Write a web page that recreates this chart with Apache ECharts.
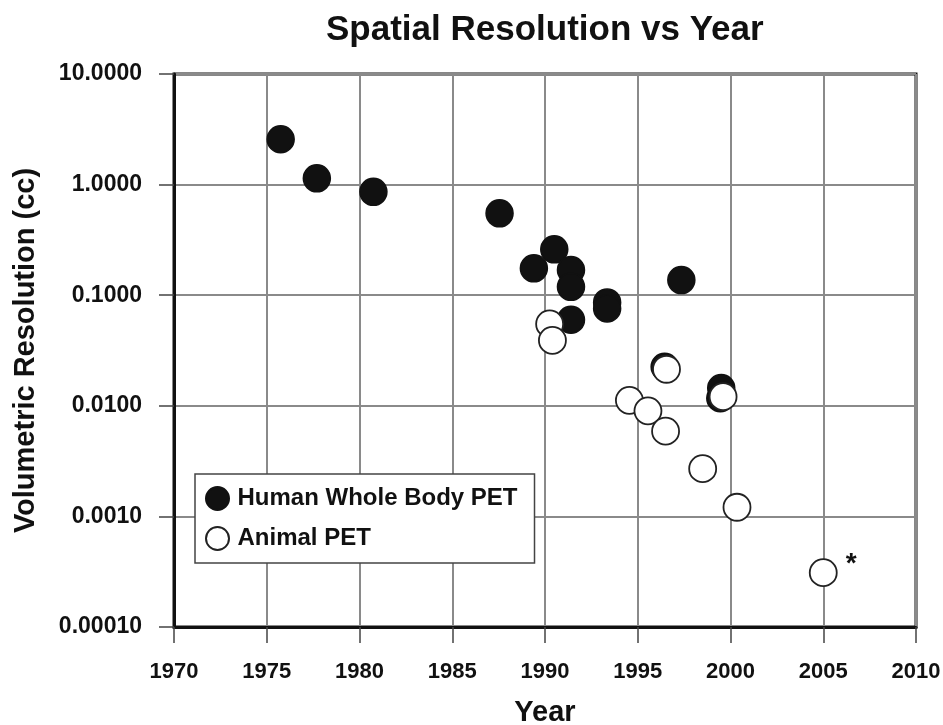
<!DOCTYPE html>
<html>
<head>
<meta charset="utf-8">
<script src="https://cdn.jsdelivr.net/npm/echarts@6/dist/echarts.min.js"></script>
<style>html,body{margin:0;padding:0;background:#fff;}#c{width:943px;height:725px;}</style>
</head>
<body>
<div id="c"></div>
<script>
// ---- data ----
const humanYear = [1975.75, 1977.7, 1980.75, 1987.55, 1990.5, 1989.4, 1991.4, 1991.4, 1991.4, 1993.35, 1993.35, 1996.45, 1997.35, 1999.5, 1999.45];
const humanVal  = [2.57, 1.14, 0.86, 0.55, 0.26, 0.175, 0.169, 0.119, 0.060, 0.086, 0.076, 0.0225, 0.137, 0.0145, 0.0117];
const animalYear = [1990.25, 1990.4, 1994.55, 1995.55, 1996.55, 1996.5, 1998.5, 1999.6, 2000.35, 2005];
const animalVal  = [0.055, 0.039, 0.0112, 0.0090, 0.0214, 0.0059, 0.0027, 0.0121, 0.00121, 0.00031];
const yTickLabels = ['0.00010', '0.0010', '0.0100', '0.1000', '1.0000', '10.0000'];
const xTickLabels = ['1970', '1975', '1980', '1985', '1990', '1995', '2000', '2005', '2010'];
const seriesNames = ['Human Whole Body PET', 'Animal PET'];
const annotatedIndex = animalYear.length - 1; // the starred point

const FONT = '"Liberation Sans", Arial, Helvetica, sans-serif';

const humanData = humanYear.map((x, i) => [x, humanVal[i]]);
const animalData = animalYear.map((x, i) => {
  const item = { value: [x, animalVal[i]] };
  if (i === annotatedIndex) {
    item.label = {
      show: true, formatter: '*', position: 'right', distance: 8, offset: [0, -8],
      fontFamily: FONT, fontWeight: 'bold', fontSize: 28, color: '#111'
    };
  }
  return item;
});

const chart = echarts.init(document.getElementById('c'), null, { renderer: 'canvas' });
chart.setOption({
  animation: false,
  backgroundColor: '#fff',
  title: {
    text: 'Spatial Resolution vs Year',
    left: 321, top: 8,
    textStyle: { fontFamily: FONT, fontWeight: 'bold', fontSize: 35, color: '#111' }
  },
  grid: {
    left: 174, right: 27, top: 74, bottom: 98,
    outerBoundsMode: 'none', containLabel: false,
    show: true, borderColor: '#111', borderWidth: 3, backgroundColor: '#fff'
  },
  legend: {
    orient: 'vertical',
    left: 195, top: 474,
    padding: [12, 17, 12, 10],
    itemWidth: 30, itemHeight: 23, itemGap: 15,
    backgroundColor: '#fff', borderColor: '#444', borderWidth: 1.5,
    textStyle: { fontFamily: FONT, fontWeight: 'bold', fontSize: 24, color: '#111' },
    data: seriesNames.map(n => ({ name: n, icon: 'circle' }))
  },
  xAxis: {
    type: 'value', min: 1970, max: 2010, interval: 5,
    name: 'Year', nameLocation: 'middle', nameGap: 71,
    nameTextStyle: { fontFamily: FONT, fontWeight: 'bold', fontSize: 29, color: '#111' },
    axisLine: { show: true, lineStyle: { color: '#111', width: 3 } },
    axisTick: { show: true, inside: false, length: 16, lineStyle: { color: '#444', width: 1.5 } },
    axisLabel: {
      margin: 34, fontFamily: FONT, fontWeight: 'bold', fontSize: 22, color: '#111',
      formatter: v => xTickLabels[Math.round((v - 1970) / 5)] || ''
    },
    splitLine: { show: true, lineStyle: { color: '#8a8a8a', width: 2 } }
  },
  yAxis: {
    type: 'log', logBase: 10, min: 0.0001, max: 10,
    name: 'Volumetric Resolution (cc)', nameLocation: 'middle', nameGap: 134, nameRotate: 90,
    nameTextStyle: { fontFamily: FONT, fontWeight: 'bold', fontSize: 29, color: '#111' },
    axisLine: { show: true, lineStyle: { color: '#111', width: 3 } },
    axisTick: { show: true, inside: false, length: 15, lineStyle: { color: '#444', width: 1.5 } },
    axisLabel: {
      margin: 32, fontFamily: FONT, fontWeight: 'bold', fontSize: 23, color: '#111',
      formatter: v => yTickLabels[Math.round(Math.log10(v)) + 4] || ''
    },
    splitLine: { show: true, lineStyle: { color: '#8a8a8a', width: 2 } },
    minorTick: { show: false }
  },
  series: [
    {
      name: seriesNames[0], type: 'scatter', symbol: 'circle', symbolSize: 27,
      data: humanData,
      itemStyle: { color: '#111', borderColor: '#111', borderWidth: 1.5, opacity: 1 },
      z: 3
    },
    {
      name: seriesNames[1], type: 'scatter', symbol: 'circle', symbolSize: 27,
      data: animalData,
      itemStyle: { color: '#fff', borderColor: '#222', borderWidth: 1.8, opacity: 1 },
      z: 4
    }
  ]
});
</script>
</body>
</html>
